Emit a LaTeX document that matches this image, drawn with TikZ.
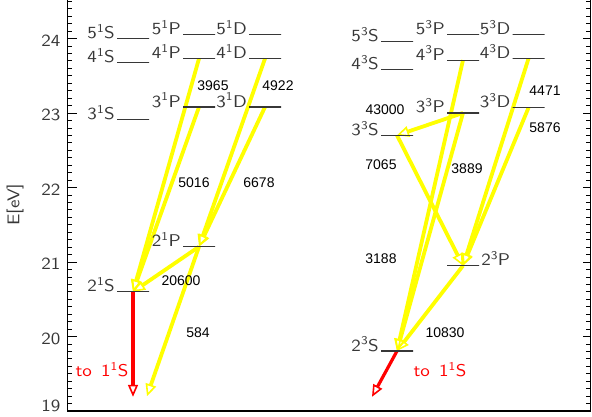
\documentclass[tikz,border=0pt]{standalone}
\usepackage{fontspec}
\usepackage{xcolor}
\usepackage{tikz}
\usetikzlibrary{arrows.meta,backgrounds}
\newfontfamily\wavefont{Liberation Sans}
\newfontfamily\termfont{lmsans10-regular}[Extension=.otf,FakeStretch=1.12]
\definecolor{LevelGray}{RGB}{55,55,55}
\definecolor{LineYellow}{RGB}{255,255,0}
\definecolor{DecayRed}{RGB}{255,0,0}
\newcommand{\spec}[3]{#1\textsuperscript{#2}#3}

\begin{document}
\begin{tikzpicture}[
    x=1pt,
    y=74.5pt,
    level/.style={
        rectangle,
        draw=LevelGray,
        line width=1.1pt,
        minimum width=32pt,
        minimum height=0pt,
        inner sep=0pt
    },
    term/.style={
        text=LevelGray,
        inner xsep=1.5pt,
        inner ysep=0pt,
        font=\termfont\fontsize{17}{17}\selectfont
    },
    wave/.style={
        inner sep=0pt,
        font=\wavefont\fontsize{14}{14}\selectfont
    },
    trans/.style={
        draw=LineYellow,
        line width=3.8pt,
        -{Triangle[open,length=12pt,width=11pt,line width=1.6pt]}
    },
    decay/.style={
        draw=DecayRed,
        line width=3.2pt,
        -{Triangle[open,length=12pt,width=10pt,line width=1.6pt]}
    }
]

\useasboundingbox (0,18.9195) rectangle (592,24.5168);

% axes
\draw[line width=0.8pt] (67,24.52) -- (67,19);
\draw[line width=0.8pt] (590,24.52) -- (590,19);
\draw[line width=1.2pt] (67,19) -- (591,19);

\foreach \i in {0,...,55} {
    \draw[line width=0.7pt] (67,19+\i/10) -- ++(5,0);
    \draw[line width=0.7pt] (590,19+\i/10) -- ++(-4,0);
}
\foreach \e/\dy in {19/5,20/-2,21/-2,22/-2,23/-2,24/-2} {
    \draw[line width=0.8pt] (67,\e) -- ++(10,0);
    \draw[line width=0.8pt] (590,\e) -- ++(-7,0);
    \node[term, anchor=east, yshift=\dy pt] (tick\e) at (62,\e) {\e};
}

\node[term, rotate=90] (ylab) at (15,21.77) {E[eV]};

% singlet levels
\node[level] (s5S) at (133,24.00) {};
\node[level] (s4S) at (133,23.675) {};
\node[level] (s3S) at (133,22.915) {};
\node[level] (s2S) at (133,20.60) {};

\node[level] (s5P) at (199,24.05) {};
\node[level] (s4P) at (199,23.73) {};
\node[level] (s3P) at (199,23.08) {};
\node[level] (s2P) at (199,21.205) {};

\node[level] (s5D) at (265,24.05) {};
\node[level] (s4D) at (265,23.73) {};
\node[level] (s3D) at (265,23.08) {};

\node[term, anchor=base east] (s5Slab) at (s5S.west) {\spec{5}{1}{S}};
\node[term, anchor=base east] (s4Slab) at (s4S.west) {\spec{4}{1}{S}};
\node[term, anchor=base east] (s3Slab) at (s3S.west) {\spec{3}{1}{S}};
\node[term, anchor=base east] (s2Slab) at (s2S.west) {\spec{2}{1}{S}};
\node[term, anchor=base east] (s5Plab) at (s5P.west) {\spec{5}{1}{P}};
\node[term, anchor=base east] (s4Plab) at (s4P.west) {\spec{4}{1}{P}};
\node[term, anchor=base east] (s3Plab) at (s3P.west) {\spec{3}{1}{P}};
\node[term, anchor=base east] (s2Plab) at (s2P.west) {\spec{2}{1}{P}};
\node[term, anchor=base east] (s5Dlab) at (s5D.west) {\spec{5}{1}{D}};
\node[term, anchor=base east] (s4Dlab) at (s4D.west) {\spec{4}{1}{D}};
\node[term, anchor=base east] (s3Dlab) at (s3D.west) {\spec{3}{1}{D}};

% triplet levels
\node[level] (t5S) at (397,23.96) {};
\node[level] (t4S) at (397,23.58) {};
\node[level] (t3S) at (397,22.70) {};
\node[level] (t2S) at (397,19.805) {};

\node[level] (t5P) at (463,24.05) {};
\node[level] (t4P) at (463,23.71) {};
\node[level] (t3P) at (463,23.00) {};
\node[level] (t2P) at (463,20.95) {};

\node[level] (t5D) at (528.5,24.05) {};
\node[level] (t4D) at (528.5,23.73) {};
\node[level] (t3D) at (528.5,23.07) {};

\node[term, anchor=base east] (t5Slab) at (t5S.west) {\spec{5}{3}{S}};
\node[term, anchor=base east] (t4Slab) at (t4S.west) {\spec{4}{3}{S}};
\node[term, anchor=base east] (t3Slab) at (t3S.west) {\spec{3}{3}{S}};
\node[term, anchor=base east] (t2Slab) at (t2S.west) {\spec{2}{3}{S}};
\node[term, anchor=base east] (t5Plab) at (t5P.west) {\spec{5}{3}{P}};
\node[term, anchor=base east] (t4Plab) at (t4P.west) {\spec{4}{3}{P}};
\node[term, anchor=base east] (t3Plab) at (t3P.west) {\spec{3}{3}{P}};
\node[term, anchor=base west] (t2Plab) at (t2P.east) {\spec{2}{3}{P}};
\node[term, anchor=base east] (t5Dlab) at (t5D.west) {\spec{5}{3}{D}};
\node[term, anchor=base east] (t4Dlab) at (t4D.west) {\spec{4}{3}{D}};
\node[term, anchor=base east] (t3Dlab) at (t3D.west) {\spec{3}{3}{D}};

% ground state ends
\coordinate (s1S) at (133,19.19);
\coordinate (s1Sres) at (147,19.2);
\coordinate (t1S) at (372,19.19);

% transitions
\begin{scope}[on background layer]
\draw[trans] (s4P.center) -- (s2S.center);
\draw[trans] (s3P.center) -- (s2S.center);
\draw[trans] (s4D.center) -- (s2P.center);
\draw[trans] (s3D.center) -- (s2P.center);
\draw[trans] (s2P.center) -- (s2S.center);
\draw[trans] (s2P.center) -- (s1Sres);
\draw[decay] (s2S.center) -- (s1S);

\draw[trans] (t4P.center) -- (t2S.center);
\draw[trans] (t3P.center) -- (t2S.center);
\draw[trans] (t3P.center) -- (t3S.center);
\draw[trans] (t3S.center) -- (t2P.center);
\draw[trans] (t4D.center) -- (t2P.center);
\draw[trans] (t3D.center) -- (t2P.center);
\draw[trans] (t2P.center) -- (t2S.center);
\draw[decay] (t2S.center) -- (t1S);
\end{scope}

% wavelengths
\node[wave] (w3965) at (213,23.36) {3965};
\node[wave] (w4922) at (278,23.36) {4922};
\node[wave] (w5016) at (194,22.06) {5016};
\node[wave] (w6678) at (259,22.06) {6678};
\node[wave] (w20600) at (181,20.745) {20600};
\node[wave] (w584) at (198,20.05) {584};

\node[wave] (w43000) at (385,23.05) {43000};
\node[wave] (w4471) at (545,23.295) {4471};
\node[wave] (w5876) at (545,22.80) {5876};
\node[wave] (w7065) at (381,22.30) {7065};
\node[wave] (w3889) at (467,22.25) {3889};
\node[wave] (w3188) at (381,21.04) {3188};
\node[wave] (w10830) at (445,20.05) {10830};

\node[term, text=DecayRed] (s1Slab) at (102,19.55) {to\ \,\spec{1}{1}{S}};
\node[term, text=DecayRed] (t1Slab) at (440,19.55) {to\ \,\spec{1}{1}{S}};

\end{tikzpicture}
\end{document}
